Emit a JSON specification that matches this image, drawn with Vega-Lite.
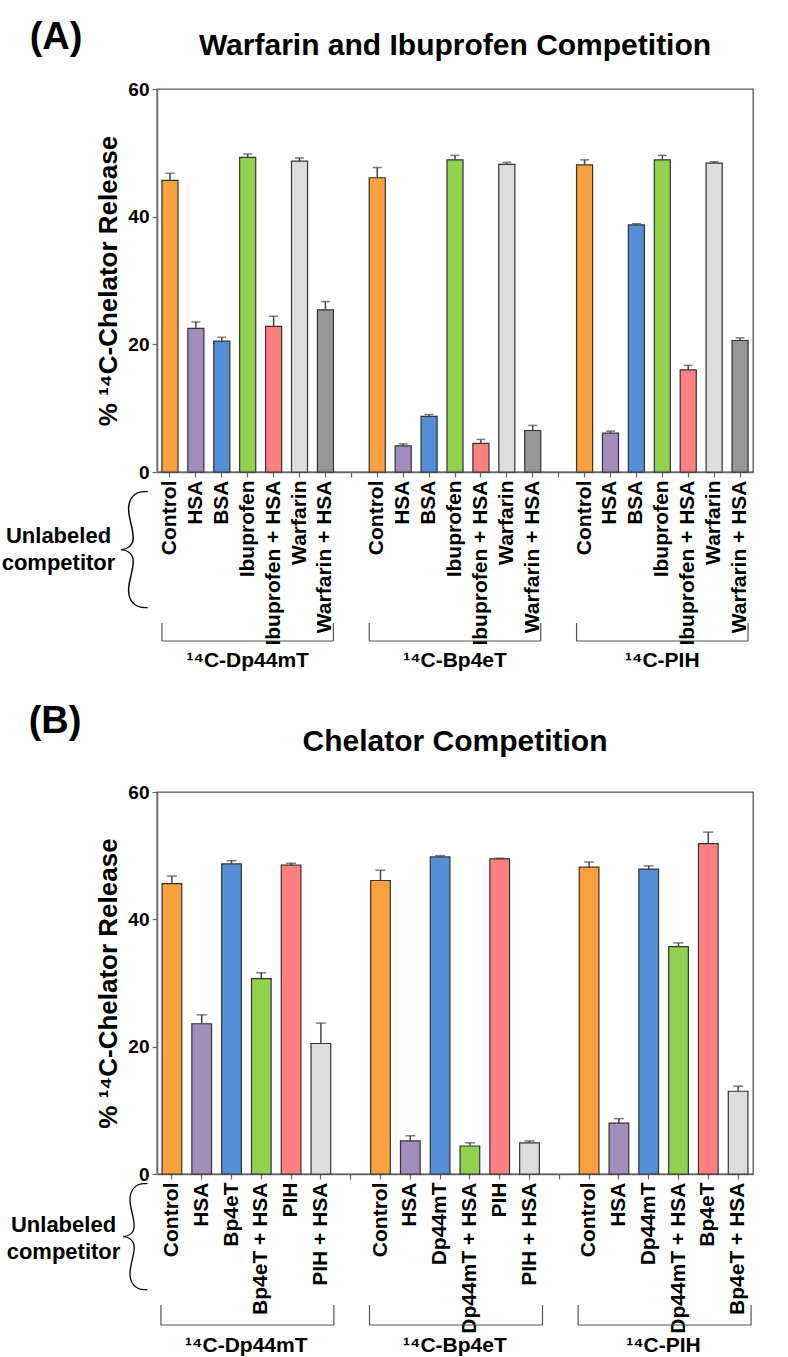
{
  "$schema": "https://vega.github.io/schema/vega-lite/v6.json",
  "background": "white",
  "padding": {"left": 0, "top": 18, "right": 5, "bottom": 0},
  "spacing": 30,
  "config": {
    "font": "Liberation Sans",
    "view": {"stroke": "#555", "strokeWidth": 1.3},
    "title": {"font": "Liberation Sans", "fontSize": 30, "fontWeight": "bold", "color": "black", "frame": "group", "anchor": "middle"}
  },
  "datasets": {
    "a": [
      {"id": "Control#1", "pos": 1, "value": 45.7, "upper": 46.8},
      {"id": "HSA#1", "pos": 2, "value": 22.5, "upper": 23.5},
      {"id": "BSA#1", "pos": 3, "value": 20.5, "upper": 21.1},
      {"id": "Ibuprofen#1", "pos": 4, "value": 49.3, "upper": 49.8},
      {"id": "Ibuprofen + HSA#1", "pos": 5, "value": 22.8, "upper": 24.4},
      {"id": "Warfarin#1", "pos": 6, "value": 48.7, "upper": 49.2},
      {"id": "Warfarin + HSA#1", "pos": 7, "value": 25.4, "upper": 26.7},
      {"id": "Control#2", "pos": 1, "value": 46.1, "upper": 47.7},
      {"id": "HSA#2", "pos": 2, "value": 4.1, "upper": 4.4},
      {"id": "BSA#2", "pos": 3, "value": 8.7, "upper": 9.0},
      {"id": "Ibuprofen#2", "pos": 4, "value": 48.9, "upper": 49.6},
      {"id": "Ibuprofen + HSA#2", "pos": 5, "value": 4.5, "upper": 5.1},
      {"id": "Warfarin#2", "pos": 6, "value": 48.2, "upper": 48.5},
      {"id": "Warfarin + HSA#2", "pos": 7, "value": 6.5, "upper": 7.3},
      {"id": "Control#3", "pos": 1, "value": 48.1, "upper": 48.9},
      {"id": "HSA#3", "pos": 2, "value": 6.1, "upper": 6.4},
      {"id": "BSA#3", "pos": 3, "value": 38.7, "upper": 38.9},
      {"id": "Ibuprofen#3", "pos": 4, "value": 48.9, "upper": 49.6},
      {"id": "Ibuprofen + HSA#3", "pos": 5, "value": 16.0, "upper": 16.7},
      {"id": "Warfarin#3", "pos": 6, "value": 48.4, "upper": 48.6},
      {"id": "Warfarin + HSA#3", "pos": 7, "value": 20.6, "upper": 21.0}
    ],
    "aGroups": [
      {"group": "¹⁴C-Dp44mT", "first": "Control#1", "last": "Warfarin + HSA#1", "mid": "Ibuprofen#1"},
      {"group": "¹⁴C-Bp4eT", "first": "Control#2", "last": "Warfarin + HSA#2", "mid": "Ibuprofen#2"},
      {"group": "¹⁴C-PIH", "first": "Control#3", "last": "Warfarin + HSA#3", "mid": "Ibuprofen#3"}
    ],
    "b": [
      {"id": "Control#1", "pos": 1, "value": 45.6, "upper": 46.8},
      {"id": "HSA#1", "pos": 2, "value": 23.6, "upper": 25.0},
      {"id": "Bp4eT#1", "pos": 3, "value": 48.7, "upper": 49.2},
      {"id": "Bp4eT + HSA#1", "pos": 4, "value": 30.7, "upper": 31.6},
      {"id": "PIH#1", "pos": 5, "value": 48.5, "upper": 48.8},
      {"id": "PIH + HSA#1", "pos": 6, "value": 20.5, "upper": 23.7},
      {"id": "Control#2", "pos": 1, "value": 46.1, "upper": 47.7},
      {"id": "HSA#2", "pos": 2, "value": 5.2, "upper": 6.0},
      {"id": "Dp44mT#2", "pos": 3, "value": 49.8, "upper": 50.0},
      {"id": "Dp44mT + HSA#2", "pos": 4, "value": 4.4, "upper": 4.9},
      {"id": "PIH#2", "pos": 5, "value": 49.5, "upper": 49.6},
      {"id": "PIH + HSA#2", "pos": 6, "value": 4.9, "upper": 5.2},
      {"id": "Control#3", "pos": 1, "value": 48.2, "upper": 49.0},
      {"id": "HSA#3", "pos": 2, "value": 8.0, "upper": 8.7},
      {"id": "Dp44mT#3", "pos": 3, "value": 47.9, "upper": 48.4},
      {"id": "Dp44mT + HSA#3", "pos": 4, "value": 35.7, "upper": 36.3},
      {"id": "Bp4eT#3", "pos": 5, "value": 51.9, "upper": 53.7},
      {"id": "Bp4eT + HSA#3", "pos": 6, "value": 13.0, "upper": 13.8}
    ],
    "bGroups": [
      {"group": "¹⁴C-Dp44mT", "first": "Control#1", "last": "PIH + HSA#1", "mid": "Bp4eT + HSA#1"},
      {"group": "¹⁴C-Bp4eT", "first": "Control#2", "last": "PIH + HSA#2", "mid": "Dp44mT + HSA#2"},
      {"group": "¹⁴C-PIH", "first": "Control#3", "last": "Bp4eT + HSA#3", "mid": "Dp44mT + HSA#3"}
    ]
  },
  "vconcat": [
    {
      "width": 596,
      "height": 383,
      "title": {"text": "Warfarin and Ibuprofen Competition", "offset": -42},
      "layer": [
        {
          "data": {"name": "a"},
          "mark": {"type": "bar", "stroke": "#333", "strokeWidth": 1.2},
          "encoding": {
            "x": {"field": "id", "type": "nominal", "sort": null,
              "scale": {"domain": ["Control#1", "HSA#1", "BSA#1", "Ibuprofen#1", "Ibuprofen + HSA#1", "Warfarin#1", "Warfarin + HSA#1", "#g1", "Control#2", "HSA#2", "BSA#2", "Ibuprofen#2", "Ibuprofen + HSA#2", "Warfarin#2", "Warfarin + HSA#2", "#g2", "Control#3", "HSA#3", "BSA#3", "Ibuprofen#3", "Ibuprofen + HSA#3", "Warfarin#3", "Warfarin + HSA#3"], "paddingInner": 0.38, "paddingOuter": 0.19},
              "axis": {"labelExpr": "split(datum.value, '#')[0]", "labelAngle": -90, "labelFont": "Liberation Sans", "labelFontWeight": "bold", "labelFontSize": 21, "labelColor": "black", "labelPadding": 3, "labelLimit": 0,
                "domainColor": "#666", "domainWidth": 1.5, "tickColor": "#666", "tickWidth": 1.2, "tickSize": 5, "grid": false,
                "title": ["Unlabeled", "competitor"], "titleFont": "Liberation Sans", "titleFontWeight": "bold", "titleFontSize": 22, "titleColor": "black", "titleAngle": 0, "titleAlign": "center", "titleBaseline": "middle", "titleLineHeight": 27, "titleX": -99, "titleY": 63}},
            "y": {"field": "value", "type": "quantitative", "scale": {"domain": [0, 60], "nice": false},
              "axis": {"values": [0, 20, 40, 60], "title": "% ¹⁴C-Chelator Release", "labelFont": "Liberation Sans", "labelFontWeight": "bold", "labelFontSize": 19, "labelColor": "black", "labelPadding": 3,
                "domainColor": "#666", "domainWidth": 1.5, "tickColor": "#666", "tickWidth": 1.2, "tickSize": 5, "grid": false,
                "titleFont": "Liberation Sans", "titleFontWeight": "bold", "titleFontSize": 26, "titleColor": "black", "titlePadding": 6}},
            "color": {"field": "pos", "type": "nominal", "scale": {"domain": [1, 2, 3, 4, 5, 6, 7], "range": ["#F9A03F", "#A38DBC", "#548ED5", "#92D050", "#FF8080", "#DDDDDD", "#969696"]}, "legend": null}
          }
        },
        {
          "data": {"name": "a"},
          "mark": {"type": "rule", "color": "#444", "strokeWidth": 1.5},
          "encoding": {"x": {"field": "id", "type": "nominal"}, "y": {"field": "value", "type": "quantitative"}, "y2": {"field": "upper"}}
        },
        {
          "data": {"name": "a"},
          "mark": {"type": "tick", "color": "#444", "size": 9, "thickness": 1.5, "orient": "horizontal"},
          "encoding": {"x": {"field": "id", "type": "nominal"}, "y": {"field": "upper", "type": "quantitative"}}
        },
        {
          "data": {"name": "aGroups"},
          "mark": {"type": "rule", "color": "#555", "strokeWidth": 1.2, "xOffset": -8, "x2Offset": 8},
          "encoding": {"x": {"field": "first", "type": "nominal"}, "x2": {"field": "last"}, "y": {"value": 552}}
        },
        {
          "data": {"name": "aGroups"},
          "mark": {"type": "rule", "color": "#555", "strokeWidth": 1.2, "xOffset": -8},
          "encoding": {"x": {"field": "first", "type": "nominal"}, "y": {"value": 534}, "y2": {"value": 552}}
        },
        {
          "data": {"name": "aGroups"},
          "mark": {"type": "rule", "color": "#555", "strokeWidth": 1.2, "xOffset": 8},
          "encoding": {"x": {"field": "last", "type": "nominal"}, "y": {"value": 534}, "y2": {"value": 552}}
        },
        {
          "data": {"name": "aGroups"},
          "mark": {"type": "text", "font": "Liberation Sans", "fontSize": 21, "fontWeight": "bold", "color": "black", "align": "center", "baseline": "alphabetic"},
          "encoding": {"x": {"field": "mid", "type": "nominal"}, "y": {"value": 578}, "text": {"field": "group"}}
        },
        {
          "data": {"values": [{"t": "{"}]},
          "mark": {"type": "text", "font": "Lato", "fontWeight": 100, "fontSize": 135, "color": "black", "align": "center", "baseline": "middle"},
          "encoding": {"x": {"value": -23}, "y": {"value": 462}, "text": {"field": "t"}}
        },
        {
          "data": {"values": [{"t": "(A)"}]},
          "mark": {"type": "text", "fontSize": 38, "fontWeight": "bold", "color": "black", "align": "center", "baseline": "middle"},
          "encoding": {"x": {"value": -101}, "y": {"value": -51}, "text": {"field": "t"}}
        }
      ]
    },
    {
      "width": 596,
      "height": 382,
      "title": {"text": "Chelator Competition", "offset": -54},
      "layer": [
        {
          "data": {"name": "b"},
          "mark": {"type": "bar", "stroke": "#333", "strokeWidth": 1.2},
          "encoding": {
            "x": {"field": "id", "type": "nominal", "sort": null,
              "scale": {"domain": ["Control#1", "HSA#1", "Bp4eT#1", "Bp4eT + HSA#1", "PIH#1", "PIH + HSA#1", "#g1", "Control#2", "HSA#2", "Dp44mT#2", "Dp44mT + HSA#2", "PIH#2", "PIH + HSA#2", "#g2", "Control#3", "HSA#3", "Dp44mT#3", "Dp44mT + HSA#3", "Bp4eT#3", "Bp4eT + HSA#3"], "paddingInner": 0.34, "paddingOuter": 0.17},
              "axis": {"labelExpr": "split(datum.value, '#')[0]", "labelAngle": -90, "labelFont": "Liberation Sans", "labelFontWeight": "bold", "labelFontSize": 21, "labelColor": "black", "labelPadding": 3, "labelLimit": 0,
                "domainColor": "#666", "domainWidth": 1.5, "tickColor": "#666", "tickWidth": 1.2, "tickSize": 5, "grid": false,
                "title": ["Unlabeled", "competitor"], "titleFont": "Liberation Sans", "titleFontWeight": "bold", "titleFontSize": 22, "titleColor": "black", "titleAngle": 0, "titleAlign": "center", "titleBaseline": "middle", "titleLineHeight": 27, "titleX": -94, "titleY": 50}},
            "y": {"field": "value", "type": "quantitative", "scale": {"domain": [0, 60], "nice": false},
              "axis": {"values": [0, 20, 40, 60], "title": "% ¹⁴C-Chelator Release", "labelFont": "Liberation Sans", "labelFontWeight": "bold", "labelFontSize": 19, "labelColor": "black", "labelPadding": 3,
                "domainColor": "#666", "domainWidth": 1.5, "tickColor": "#666", "tickWidth": 1.2, "tickSize": 5, "grid": false,
                "titleFont": "Liberation Sans", "titleFontWeight": "bold", "titleFontSize": 26, "titleColor": "black", "titlePadding": 6}},
            "color": {"field": "pos", "type": "nominal", "scale": {"domain": [1, 2, 3, 4, 5, 6], "range": ["#F9A03F", "#A38DBC", "#548ED5", "#92D050", "#FF8080", "#DDDDDD"]}, "legend": null}
          }
        },
        {
          "data": {"name": "b"},
          "mark": {"type": "rule", "color": "#444", "strokeWidth": 1.5},
          "encoding": {"x": {"field": "id", "type": "nominal"}, "y": {"field": "value", "type": "quantitative"}, "y2": {"field": "upper"}}
        },
        {
          "data": {"name": "b"},
          "mark": {"type": "tick", "color": "#444", "size": 10, "thickness": 1.5, "orient": "horizontal"},
          "encoding": {"x": {"field": "id", "type": "nominal"}, "y": {"field": "upper", "type": "quantitative"}}
        },
        {
          "data": {"name": "bGroups"},
          "mark": {"type": "rule", "color": "#555", "strokeWidth": 1.2, "xOffset": -11, "x2Offset": 13},
          "encoding": {"x": {"field": "first", "type": "nominal"}, "x2": {"field": "last"}, "y": {"value": 533}}
        },
        {
          "data": {"name": "bGroups"},
          "mark": {"type": "rule", "color": "#555", "strokeWidth": 1.2, "xOffset": -11},
          "encoding": {"x": {"field": "first", "type": "nominal"}, "y": {"value": 513}, "y2": {"value": 533}}
        },
        {
          "data": {"name": "bGroups"},
          "mark": {"type": "rule", "color": "#555", "strokeWidth": 1.2, "xOffset": 13},
          "encoding": {"x": {"field": "last", "type": "nominal"}, "y": {"value": 513}, "y2": {"value": 533}}
        },
        {
          "data": {"name": "bGroups"},
          "mark": {"type": "text", "font": "Liberation Sans", "fontSize": 21, "fontWeight": "bold", "color": "black", "align": "center", "baseline": "alphabetic", "xOffset": -15},
          "encoding": {"x": {"field": "mid", "type": "nominal"}, "y": {"value": 560}, "text": {"field": "group"}}
        },
        {
          "data": {"values": [{"t": "{"}]},
          "mark": {"type": "text", "font": "Lato", "fontWeight": 100, "fontSize": 122, "color": "black", "align": "center", "baseline": "middle"},
          "encoding": {"x": {"value": -22}, "y": {"value": 446}, "text": {"field": "t"}}
        },
        {
          "data": {"values": [{"t": "(B)"}]},
          "mark": {"type": "text", "fontSize": 38, "fontWeight": "bold", "color": "black", "align": "center", "baseline": "middle"},
          "encoding": {"x": {"value": -102}, "y": {"value": -70}, "text": {"field": "t"}}
        }
      ]
    }
  ]
}
